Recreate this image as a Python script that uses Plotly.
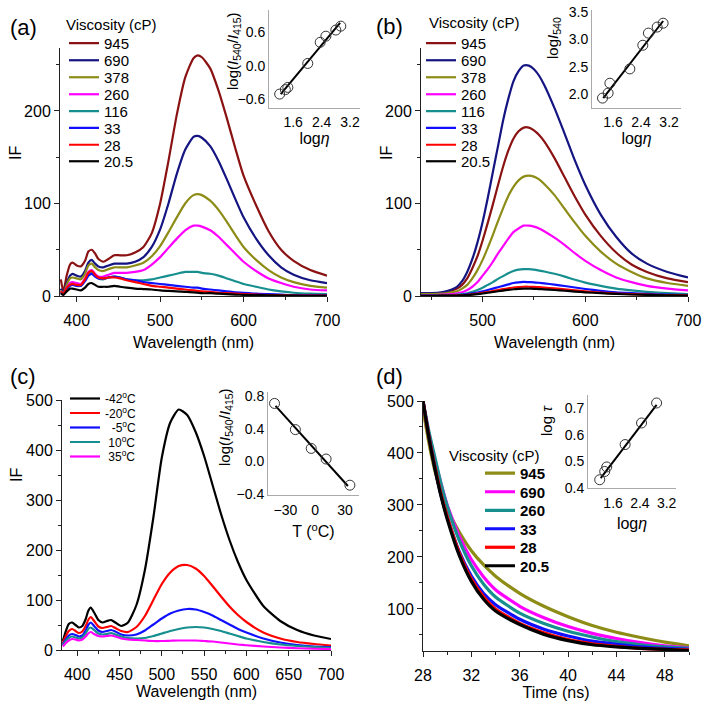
import plotly.graph_objects as go

FONT = "Liberation Sans, Arial, sans-serif"
W, H = 707, 708


def px(x):
    return x / W


def py(y):
    return 1 - y / H


# ---------------- Panel (a): emission spectra, excitation 1 ----------------
wl_a = [381, 384, 388, 392, 395, 400, 405, 410, 414, 418, 422, 426, 432, 438, 445, 452, 460, 470,
        480, 490, 500, 510, 520, 530, 540, 545, 550, 560, 570, 580, 590, 600, 615, 630, 645, 660, 680, 700]
a_945 = [18, 5, 22, 34, 36, 33, 32, 38, 48, 50, 46, 40, 37, 40, 44, 44, 44, 47,
         53, 68, 100, 146, 196, 236, 257, 260, 258, 246, 222, 192, 160, 130, 98, 70, 50, 38, 28, 22]
a_690 = [8, 3, 14, 22, 24, 22, 21, 27, 36, 39, 35, 32, 31, 33, 35, 35, 35, 37,
         42, 53, 72, 100, 132, 158, 172, 173, 171, 162, 146, 126, 105, 85, 62, 44, 31, 23, 17, 14]
a_378 = [6, 2, 12, 19, 20, 19, 18, 24, 33, 35, 31, 28, 27, 29, 31, 31, 31, 33,
         36, 43, 54, 69, 85, 100, 109, 110, 109, 103, 93, 80, 66, 53, 39, 28, 20, 15, 11, 9]
a_260 = [5, 2, 9, 14, 15, 14, 13, 19, 26, 28, 24, 21, 21, 23, 25, 25, 25, 26,
         28, 34, 42, 52, 62, 71, 76, 76, 75, 71, 64, 55, 46, 37, 27, 19, 14, 10, 7, 6]
a_116 = [4, 2, 8, 12, 13, 11, 11, 17, 23, 25, 22, 19, 18, 20, 21, 20, 18, 17,
         17, 18, 20, 22, 24, 26, 26, 26, 25, 24, 22, 19, 16, 13, 10, 7, 5, 3.5, 2.5, 2]
a_33 = [4, 2, 8, 11, 12, 11, 11, 16, 22, 24, 21, 19, 19, 20, 21, 20, 18, 17,
        15, 14, 13, 12, 11, 10, 9, 9, 8, 7, 6, 5, 4, 3.5, 2.5, 2, 1.5, 1, 1, 1]
a_28 = [5, 2, 9, 12, 13, 12, 12, 18, 25, 27, 23, 20, 19, 20, 20, 19, 17, 15,
        13, 11, 10, 9, 8, 7, 6, 5.5, 5, 4.5, 3.5, 3, 2.5, 2, 1.5, 1, 0.8, 0.5, 0.4, 0.3]
a_20 = [3, 1, 5, 8, 8, 7, 6, 9, 13, 14, 12, 10, 10, 10, 11, 10, 9, 8,
        7.5, 7, 6, 5.5, 5, 4.5, 4, 3.5, 3, 3, 2.5, 2, 1.5, 1.2, 1, 0.7, 0.5, 0.3, 0.2, 0.1]

# ---------------- Panel (b): emission spectra, excitation 2 ----------------
wl_b = [440, 450, 460, 470, 475, 480, 485, 490, 495, 500, 505, 510, 515, 520, 525, 530, 535, 540,
        545, 550, 555, 560, 570, 580, 590, 600, 615, 630, 645, 660, 680, 700]
b_945 = [3, 3, 3.5, 6, 8, 12, 19, 30, 43, 60, 79, 99, 120, 140, 157, 170, 178, 182,
         182, 179, 174, 167, 149, 128, 107, 88, 65, 47, 34, 26, 19, 15]
b_690 = [3, 3, 4, 7, 10, 16, 26, 40, 58, 80, 106, 134, 162, 190, 213, 232, 243, 249,
         249, 245, 238, 228, 203, 175, 146, 120, 88, 64, 46, 35, 26, 20]
b_378 = [2, 2, 2.5, 4, 5, 8, 12, 19, 28, 39, 52, 66, 81, 95, 108, 118, 125, 129,
         130, 129, 126, 121, 109, 94, 79, 65, 48, 35, 26, 19, 14, 11]
b_260 = [1, 1, 1.5, 2, 3, 4, 6.5, 10, 15, 22, 29, 37, 46, 54, 62, 69, 73, 76,
         76, 75, 73, 70, 63, 55, 46, 38, 28, 20, 15, 11, 8, 6]
b_116 = [0.5, 0.5, 0.8, 1, 1.5, 2, 3, 4.5, 6.5, 9, 12, 15, 18.5, 21.5, 24.5, 27, 28.5, 29,
         29, 28.5, 27.5, 26.5, 24, 21, 17.5, 14.5, 11, 8, 6, 4.5, 3, 2]
b_33 = [0.3, 0.3, 0.5, 0.7, 1, 1.3, 2, 2.8, 3.8, 5, 6.5, 8, 9.5, 11, 12.5, 14, 14.8, 15.2,
        15, 14.8, 14.3, 13.7, 12.3, 10.8, 9.2, 7.6, 5.6, 4, 3, 2.2, 1.5, 1]
b_28 = [0.2, 0.2, 0.3, 0.5, 0.7, 0.9, 1.3, 1.8, 2.5, 3.3, 4.3, 5.3, 6.4, 7.4, 8.3, 9.2, 9.7, 10,
        10, 9.8, 9.5, 9.1, 8.2, 7.2, 6.1, 5, 3.7, 2.7, 2, 1.5, 1, 0.7]
b_20 = [0.2, 0.2, 0.3, 0.4, 0.5, 0.7, 1, 1.4, 2, 2.7, 3.5, 4.3, 5.1, 5.9, 6.6, 7.3, 7.7, 8,
        8, 7.8, 7.5, 7.2, 6.5, 5.7, 4.8, 4, 3, 2.2, 1.6, 1.2, 0.8, 0.5]

visc_labels = ["945", "690", "378", "260", "116", "33", "28", "20.5"]
visc_colors = ["#8B1212", "#141482", "#8C8C17", "#FF00FF", "#178F8F", "#1010FF", "#FF0000", "#000000"]

# ---------------- Panel (c): temperature series ----------------
wl_c = [383, 386, 390, 394, 398, 402, 406, 410, 413, 416, 420, 425, 430, 435, 440, 445, 452, 460,
        470, 480, 490, 500, 510, 520, 530, 540, 550, 560, 570, 580, 590, 600, 620, 640, 660, 680, 700]
c_m42 = [18, 35, 52, 55, 50, 45, 48, 62, 78, 85, 75, 60, 55, 58, 60, 55, 48, 55,
         90, 160, 265, 385, 455, 481, 470, 436, 388, 330, 272, 220, 176, 140, 88, 58, 40, 29, 22]
c_m20 = [14, 26, 38, 42, 38, 34, 37, 48, 60, 66, 58, 47, 44, 46, 48, 44, 38, 36,
         46, 68, 100, 132, 155, 168, 170, 163, 148, 128, 107, 87, 70, 56, 35, 23, 16, 12, 9]
c_m5 = [11, 20, 29, 32, 30, 27, 29, 39, 50, 55, 48, 39, 36, 38, 40, 37, 31, 29,
        31, 39, 51, 63, 73, 79, 82, 81, 76, 69, 60, 51, 42, 35, 23, 15, 10, 7, 6]
c_p10 = [9, 17, 24, 27, 25, 23, 25, 33, 42, 45, 40, 33, 31, 32, 34, 31, 27, 24,
         23, 24, 28, 33, 38, 42, 45, 46, 45, 42, 38, 33, 28, 23, 16, 11, 8, 6, 4]
c_p35 = [7, 13, 19, 22, 21, 19, 21, 27, 33, 36, 32, 28, 27, 28, 29, 27, 23, 21,
         20, 19, 18, 18, 18.5, 19, 19, 19, 18, 17, 15, 13, 11, 9.5, 7, 5, 3.5, 2.5, 2]
temp_labels = ["-42<sup>o</sup>C", "-20<sup>o</sup>C", "\u00a0\u00a0-5<sup>o</sup>C",
               "\u00a010<sup>o</sup>C", "\u00a035<sup>o</sup>C"]
temp_colors = ["#000000", "#FF0000", "#1010FF", "#178F8F", "#FF00FF"]

# ---------------- Panel (d): fluorescence decays ----------------
t_d = [28, 28.5, 29, 29.5, 30, 31, 32, 33, 34, 36, 38, 40, 42, 44, 46, 48, 50]
d_945 = [485, 418, 364, 325, 293, 248, 212, 185, 163, 130, 105, 85, 68, 55, 45, 36, 29]
d_690 = [500, 435, 385, 340, 300, 240, 195, 162, 137, 105, 83, 66, 53, 43, 35, 29, 25]
d_260 = [500, 440, 390, 340, 298, 232, 183, 148, 123, 92, 72, 57, 46, 37, 31, 27, 24]
d_33 = [500, 430, 370, 318, 277, 210, 163, 130, 108, 80, 61, 48, 38, 32, 27, 24, 22]
d_28 = [500, 430, 372, 320, 278, 208, 158, 124, 100, 72, 54, 41, 33, 28, 24, 22, 21]
d_20 = [500, 428, 368, 316, 273, 203, 153, 119, 96, 70, 51, 39, 31, 27, 24, 22, 20]
decay_labels = ["945", "690", "260", "33", "28", "20.5"]
decay_colors = ["#8C8C17", "#FF00FF", "#178F8F", "#1010FF", "#FF0000", "#000000"]

# ---------------- Insets ----------------
ins_a_x = [1.22, 1.38, 1.45, 2.01, 2.36, 2.52, 2.80, 2.94]
ins_a_y = [-0.51, -0.43, -0.39, 0.04, 0.42, 0.53, 0.64, 0.71]
ins_a_fit_x = [1.25, 2.92]
ins_a_fit_y = [-0.51, 0.77]

ins_b_x = [1.30, 1.46, 1.51, 2.08, 2.45, 2.61, 2.86, 3.03]
ins_b_y = [1.93, 2.02, 2.20, 2.46, 2.89, 3.11, 3.22, 3.29]
ins_b_fit_x = [1.32, 3.03]
ins_b_fit_y = [1.93, 3.33]

ins_c_x = [-41, -20, -4, 11, 35]
ins_c_y = [0.71, 0.39, 0.16, 0.03, -0.29]
ins_c_fit_x = [-40, 33]
ins_c_fit_y = [0.68, -0.30]

ins_d_x = [1.20, 1.35, 1.41, 1.96, 2.45, 2.90]
ins_d_y = [0.431, 0.462, 0.479, 0.563, 0.644, 0.719]
ins_d_fit_x = [1.23, 2.90]
ins_d_fit_y = [0.437, 0.712]

fig = go.Figure()
legend_layout = {}
_leg_count = [0]


def new_legend(x_left, y_mid, size, bold):
    _leg_count[0] += 1
    n = _leg_count[0]
    name = "legend" if n == 1 else f"legend{n}"
    legend_layout[name] = dict(
        x=px(x_left), y=py(y_mid), xanchor="left", yanchor="middle",
        bgcolor="rgba(0,0,0,0)", borderwidth=0, itemwidth=30, tracegroupgap=0,
        font=dict(size=size, color="black", family=FONT, weight="bold" if bold else "normal"))
    return name


def add_series(xs, series, labels, colors, xa, ya, width, leg_x, leg_rows, size=15, bold=False):
    for vals, lab, col, row in zip(series, labels, colors, leg_rows):
        lg = new_legend(leg_x, row, size, bold)
        fig.add_trace(go.Scatter(
            x=xs, y=vals, mode="lines", name=lab,
            line=dict(color=col, width=width, shape="spline", smoothing=0.6),
            xaxis=xa, yaxis=ya, legend=lg, showlegend=True, hoverinfo="skip"))


rows_ab = [43.3, 60.5, 77.5, 94.5, 111.3, 128.2, 145, 161.5]
rows_c = [398.5, 413, 427.5, 442, 456.5]
rows_d = [473.3, 492, 510.7, 529, 547.5, 566]

add_series(wl_a, [a_945, a_690, a_378, a_260, a_116, a_33, a_28, a_20], visc_labels, visc_colors,
           "x", "y", 2.2, 64, rows_ab)
add_series(wl_b, [b_945, b_690, b_378, b_260, b_116, b_33, b_28, b_20], visc_labels, visc_colors,
           "x2", "y2", 2.2, 421, rows_ab)
add_series(wl_c, [c_m42, c_m20, c_m5, c_p10, c_p35], temp_labels, temp_colors,
           "x3", "y3", 2.2, 65, rows_c, size=12)
add_series(t_d, [d_945, d_690, d_260, d_33, d_28, d_20], decay_labels, decay_colors,
           "x4", "y4", 3.2, 480, rows_d, bold=True)


def add_inset(xs, ys, fx, fy, xa, ya):
    fig.add_trace(go.Scatter(x=fx, y=fy, mode="lines", line=dict(color="black", width=2),
                             xaxis=xa, yaxis=ya, showlegend=False, hoverinfo="skip"))
    fig.add_trace(go.Scatter(x=xs, y=ys, mode="markers",
                             marker=dict(symbol="circle-open", size=10, color="#333",
                                         line=dict(width=1)),
                             xaxis=xa, yaxis=ya, showlegend=False, hoverinfo="skip"))


add_inset(ins_a_x, ins_a_y, ins_a_fit_x, ins_a_fit_y, "x5", "y5")
add_inset(ins_b_x, ins_b_y, ins_b_fit_x, ins_b_fit_y, "x6", "y6")
add_inset(ins_c_x, ins_c_y, ins_c_fit_x, ins_c_fit_y, "x7", "y7")
add_inset(ins_d_x, ins_d_y, ins_d_fit_x, ins_d_fit_y, "x8", "y8")

AX = "#222222"


def main_axis(domain, rng, tick0, dtick, mdtick, anchor, standoff=0, title=None, tstand=0):
    d = dict(domain=domain, range=rng, tick0=tick0, dtick=dtick, anchor=anchor,
             showline=True, linecolor=AX, linewidth=1, ticks="outside", ticklen=5,
             tickwidth=1, tickcolor=AX, ticklabelstandoff=standoff,
             minor=dict(ticks="outside", ticklen=3, tickwidth=1, tickcolor=AX, dtick=mdtick,
                        tick0=tick0, showgrid=False),
             showgrid=False, zeroline=False, automargin=False,
             tickfont=dict(size=16, color="black", family=FONT))
    if title:
        d["title"] = dict(text=title, standoff=tstand,
                          font=dict(size=16, color="black", family=FONT))
    return d


def inset_axis(domain, rng, tickvals, anchor, fmt=None, standoff=0, title=None, tstand=0):
    d = dict(domain=domain, range=rng, tickvals=tickvals, anchor=anchor,
             showline=True, linecolor="#aaaaaa", linewidth=1, ticks="",
             showgrid=False, zeroline=False, ticklabelstandoff=standoff, automargin=False,
             tickfont=dict(size=14, color="black", family=FONT))
    if fmt:
        d["tickformat"] = fmt
    if title:
        d["title"] = dict(text=title, standoff=tstand,
                          font=dict(size=16, color="black", family=FONT))
    return d


a_xd = [px(60), px(327)]
a_yd = [py(296), py(48)]
b_xd = [px(421), px(688)]
c_xd = [px(62), px(331)]
c_yd = [py(650), py(400)]
d_xd = [px(423), px(689)]
d_yd = [py(651), py(401)]

WL = "Wavelength (nm)"
ETA = "log<i>η</i>"

fig.update_layout(
    width=W, height=H, margin=dict(l=0, r=0, t=0, b=0),
    paper_bgcolor="white", plot_bgcolor="rgba(0,0,0,0)",
    font=dict(family=FONT, color="black", size=16),
    xaxis=main_axis(a_xd, [380, 700], 400, 100, 50, "y", 5, WL, 8),
    yaxis=main_axis(a_yd, [0, 268], 0, 100, 50, "x"),
    xaxis2=main_axis(b_xd, [440, 700], 400, 100, 50, "y2", 5, WL, 8),
    yaxis2=main_axis(a_yd, [0, 268], 0, 100, 50, "x2"),
    xaxis3=main_axis(c_xd, [382, 700], 400, 50, 25, "y3", 5, WL, 0),
    yaxis3=main_axis(c_yd, [0, 500], 0, 100, 50, "x3"),
    xaxis4=main_axis(d_xd, [28, 50], 28, 4, 2, "y4", 5, "Time (ns)", 0),
    yaxis4=main_axis(d_yd, [19, 500], 100, 100, 50, "x4"),
    xaxis5=inset_axis([px(269), px(360)], [0.92, 3.48], [1.6, 2.4, 3.2], "y5", ".1f", 1, ETA, 0),
    yaxis5=inset_axis([py(108), py(10)], [-0.76, 1.0], [-0.6, 0.0, 0.6], "x5", ".1f"),
    xaxis6=inset_axis([px(592), px(681)], [1.0, 3.54], [1.6, 2.4, 3.2], "y6", ".1f", 1, ETA, 3),
    yaxis6=inset_axis([py(108), py(10)], [1.75, 3.53], [2.0, 2.5, 3.0, 3.5], "x6", ".1f"),
    xaxis7=inset_axis([px(268), px(359)], [-47.6, 44.2], [-30, 0, 30], "y7", None, 2,
                      "T (<sup>o</sup>C)", 9),
    yaxis7=inset_axis([py(495), py(392)], [-0.41, 0.85], [-0.4, 0.0, 0.4, 0.8], "x7", ".1f"),
    xaxis8=inset_axis([px(588), px(676)], [0.85, 3.48], [1.6, 2.4, 3.2], "y8", ".1f", 2, ETA, 8),
    yaxis8=inset_axis([py(488), py(395)], [0.40, 0.749], [0.4, 0.5, 0.6, 0.7], "x8", ".1f"),
    **legend_layout,
)


def ann(text, x, y, size=16, angle=0, xanchor="center"):
    fig.add_annotation(text=text, x=px(x), y=py(y), xref="paper", yref="paper",
                       showarrow=False, textangle=angle, xanchor=xanchor, yanchor="middle",
                       font=dict(size=size, color="black", family=FONT))


# panel labels
ann("(a)", 23, 27, 22)
ann("(b)", 389, 26, 22)
ann("(c)", 23, 376, 22)
ann("(d)", 389, 377, 22)
# legend titles
ann("Viscosity (cP)", 64, 24, 15, xanchor="left")
ann("Viscosity (cP)", 427, 23, 15, xanchor="left")
ann("Viscosity (cP)", 447, 455, 15, xanchor="left")
# y-axis titles (placed beside the tick labels as in the original)
ann("IF", 16, 153, 16, angle=-90)
ann("IF", 387, 153, 16, angle=-90)
ann("IF", 17, 475, 16, angle=-90)
ann("log(<i>I</i><sub>540</sub>/<i>I</i><sub>415</sub>)", 233, 51, 15, angle=-90)
ann("log<i>I</i><sub>540</sub>", 553, 38, 15, angle=-90)
ann("log(<i>I</i><sub>540</sub>/<i>I</i><sub>415</sub>)", 225, 427, 15, angle=-90)
ann("log <i>τ</i>", 546, 421, 15, angle=-90)

fig.write_html("out.html", config={"displayModeBar": False},
               post_script="document.body.style.margin='0';document.body.style.overflow='hidden';")
